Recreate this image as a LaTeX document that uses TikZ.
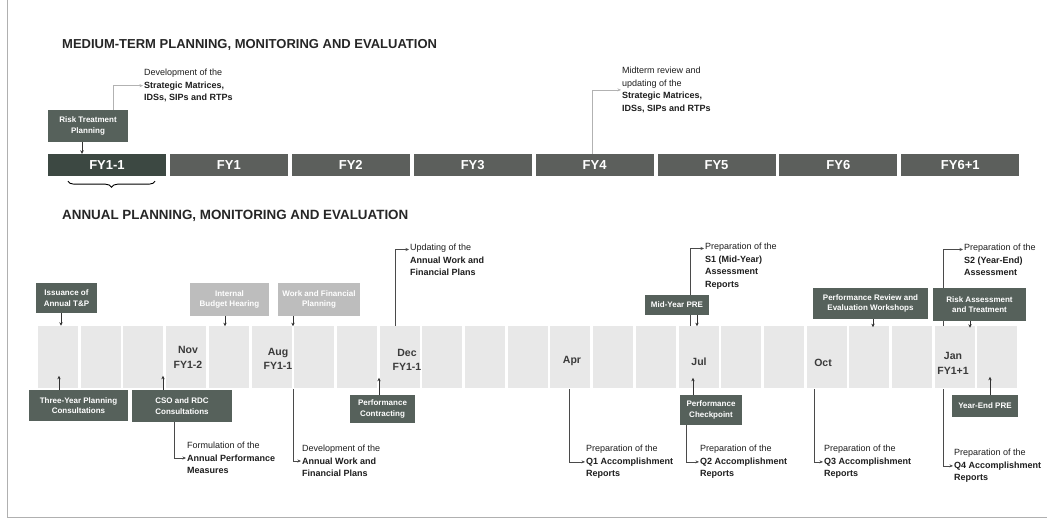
\documentclass[tikz,border=0pt]{standalone}
\usepackage{fontspec}
\setmainfont{Liberation Sans}
\usetikzlibrary{arrows.meta,decorations.pathreplacing}
\definecolor{fydark}{HTML}{3C4842}
\definecolor{fygray}{HTML}{5C5F5C}
\definecolor{boxdark}{HTML}{56615B}
\definecolor{boxlight}{HTML}{BDBDBD}
\definecolor{tilegray}{HTML}{E8E8E8}
\definecolor{notec}{HTML}{1E1E1E}
\definecolor{labgray}{HTML}{3A3A3A}
\definecolor{conncol}{HTML}{4A4A4A}
\definecolor{framec}{HTML}{B0B0B0}
\begin{document}
\begin{tikzpicture}[x=1pt,y=-1pt,
  fy/.style={fill=fygray, text=white, font=\fontsize{13}{15}\selectfont\bfseries, minimum width=118pt, minimum height=22pt, inner sep=0pt},
  dbox/.style={fill=boxdark, text=white, font=\fontsize{8}{10.5}\selectfont\bfseries, align=center, inner sep=1pt},
  lbox/.style={dbox, fill=boxlight},
  tile/.style={fill=tilegray, minimum width=40pt, minimum height=62pt, inner sep=0pt},
  mlab/.style={text=labgray, font=\fontsize{10.5}{14.5}\selectfont\bfseries, align=center, inner sep=0pt},
  note/.style={anchor=north west, align=left, inner sep=1pt, text=notec, font=\fontsize{9}{12.5}\selectfont},
  conn/.style={draw=conncol, line width=0.6pt, -{Stealth[length=3.5pt,width=3pt]}},
  lconn/.style={conn, draw=gray!60},
  tip/.style={draw=black!80, line width=0.8pt, -{Stealth[length=3.5pt,width=3.5pt]}},
  ttl/.style={anchor=west, font=\bfseries, text=black!85, inner sep=0pt}
]
\useasboundingbox (0,0) rectangle (1047,521);
\fill[white] (0,0) rectangle (1047,521);
% frame
\draw[framec, line width=0.8pt] (7,0) -- (7,517) -- (1047,517);

% ---------------- medium-term ----------------
\node[ttl, font=\fontsize{13}{15}\selectfont\bfseries] (t1) at (62,45) {MEDIUM-TERM PLANNING, MONITORING AND EVALUATION};

\foreach \lab [count=\i from 0] in {FY1,FY2,FY3,FY4,FY5,FY6,FY6+1}
  \node[fy] (fy\i) at ({228.9+\i*121.9},165) {\lab};
\node[fy, fill=fydark] (fy0x) at (107,165) {FY1-1};

\node[dbox, minimum width=80pt, minimum height=32pt] (rtp) at (88,126) {Risk Treatment\\Planning};
\draw[tip] ([xshift=-6pt]rtp.south) -- ([xshift=-6pt]rtp.south |- fy0x.north);

\node[note] (devnote) at (143,68) {Development of the\\\textbf{Strategic Matrices,}\\\textbf{IDSs, SIPs and RTPs}};
\draw[lconn] ([xshift=25pt]rtp.north) |- (devnote.west);

\node[note] (midnote) at (621,66) {Midterm review and\\updating of the\\\textbf{Strategic Matrices,}\\\textbf{IDSs, SIPs and RTPs}};
\draw[lconn] ([xshift=-2pt]fy3.north) |- (midnote.west);

\draw[decorate, decoration={brace, mirror, amplitude=6pt}, line width=0.9pt]
  ([xshift=-39pt,yshift=-5pt]fy0x.south) -- ([xshift=48pt,yshift=-5pt]fy0x.south);

% ---------------- annual ----------------
\node[ttl, font=\fontsize{13.4}{15}\selectfont\bfseries] (t2) at (62,216) {ANNUAL PLANNING, MONITORING AND EVALUATION};

\foreach \i in {0,...,22}
  \node[tile] (m\i) at ({58+\i*42.7},357) {};

\node[mlab] (nov) at (188,357.5) {Nov\\FY1-2};
\node[mlab] (aug) at (278,359) {Aug\\FY1-1};
\node[mlab] (dec) at (407,360) {Dec\\FY1-1};
\node[mlab] (apr) at (572,361) {Apr};
\node[mlab] (jul) at (699,362) {Jul};
\node[mlab] (oct) at (823,363) {Oct};
\node[mlab] (jan) at (953,363.5) {Jan\\FY1+1};

\coordinate (decT) at (395,326);
\coordinate (julT) at (690,326);
\coordinate (janT) at (943,326);
\coordinate (augB) at (293,389);
\coordinate (aprB) at (569,389);
\coordinate (octB) at (814,389);
\coordinate (janB) at (943,389);

% notes
\node[note] (updnote) at (409,243) {Updating of the\\\textbf{Annual Work and}\\\textbf{Financial Plans}};
\node[note] (s1note) at (704,242) {Preparation of the\\\textbf{S1 (Mid-Year)}\\\textbf{Assessment}\\\textbf{Reports}};
\node[note] (s2note) at (963,243) {Preparation of the\\\textbf{S2 (Year-End)}\\\textbf{Assessment}};
\node[note] (formnote) at (186,441) {Formulation of the\\\textbf{Annual Performance}\\\textbf{Measures}};
\node[note] (devnote2) at (301,444) {Development of the\\\textbf{Annual Work and}\\\textbf{Financial Plans}};
\node[note] (q1note) at (585,444) {Preparation of the\\\textbf{Q1 Accomplishment}\\\textbf{Reports}};
\node[note] (q2note) at (699,444) {Preparation of the\\\textbf{Q2 Accomplishment}\\\textbf{Reports}};
\node[note] (q3note) at (823,444) {Preparation of the\\\textbf{Q3 Accomplishment}\\\textbf{Reports}};
\node[note] (q4note) at (953,448) {Preparation of the\\\textbf{Q4 Accomplishment}\\\textbf{Reports}};

% connectors behind boxes
\draw[conn] (decT) |- ([yshift=-6.5pt]updnote.north west);
\draw[conn] (julT) |- ([yshift=-6.5pt]s1note.north west);
\draw[conn] (janT) |- ([yshift=-6.5pt]s2note.north west);
\draw[conn] (augB) |- (devnote2.west);
\draw[conn] (aprB) |- (q1note.west);
\draw[conn] (octB) |- (q3note.west);
\draw[conn] (janB) |- (q4note.west);

% top boxes
\node[dbox, minimum width=61pt, minimum height=30pt] (iss) at (66.5,298) {Issuance of\\Annual T\&P};
\node[lbox, minimum width=79pt, minimum height=33pt] (ibh) at (229.5,299.5) {Internal\\Budget Hearing};
\node[lbox, minimum width=82pt, minimum height=33pt] (wfp) at (319,299.5) {Work and Financial\\Planning};
\node[dbox, minimum width=64pt, minimum height=20pt] (myp) at (677,305) {Mid-Year PRE};
\node[dbox, minimum width=115pt, minimum height=31pt] (prw) at (870.5,303.5) {Performance Review and\\Evaluation Workshops};
\node[dbox, minimum width=93pt, minimum height=33pt] (rat) at (979.5,304.5) {Risk Assessment\\and Treatment};

\draw[tip] ([xshift=-5.5pt]iss.south) -- ++(0,12.5);
\draw[tip] ([xshift=-4.5pt]ibh.south) -- ++(0,10);
\draw[tip] ([xshift=-26pt]wfp.south) -- ++(0,10);
\draw[tip] ([xshift=20pt]myp.south) -- ++(0,11);
\draw[tip] ([xshift=2.5pt]prw.south) -- ++(0,8);
\draw[tip] ([xshift=-9.5pt]rat.south) -- ++(0,6.5);

% bottom boxes
\node[dbox, minimum width=99pt, minimum height=31pt] (tyb) at (78.5,405.5) {Three-Year Planning\\Consultations};
\node[dbox, minimum width=100pt, minimum height=32pt] (cso) at (182,406) {CSO and RDC\\Consultations};
\node[dbox, minimum width=65pt, minimum height=28pt] (pco) at (382.5,409) {Performance\\Contracting};
\node[dbox, minimum width=62pt, minimum height=30pt] (pck) at (711,410) {Performance\\Checkpoint};
\node[dbox, minimum width=66pt, minimum height=22pt] (yep) at (985,406) {Year-End PRE};

\draw[tip] ([xshift=-19.5pt]tyb.north) -- ++(0,-14);
\draw[tip] ([xshift=-19pt]cso.north) -- ++(0,-14);
\draw[tip] ([xshift=-3.5pt]pco.north) -- ++(0,-17);
\draw[tip] ([xshift=-18pt]pck.north) -- ++(0,-17);
\draw[tip] ([xshift=5pt]yep.north) -- ++(0,-18);

\draw[conn] ([xshift=-8pt]cso.south) |- (formnote.west);
\draw[conn] ([xshift=-25pt]pck.south) |- (q2note.west);
\end{tikzpicture}
\end{document}
